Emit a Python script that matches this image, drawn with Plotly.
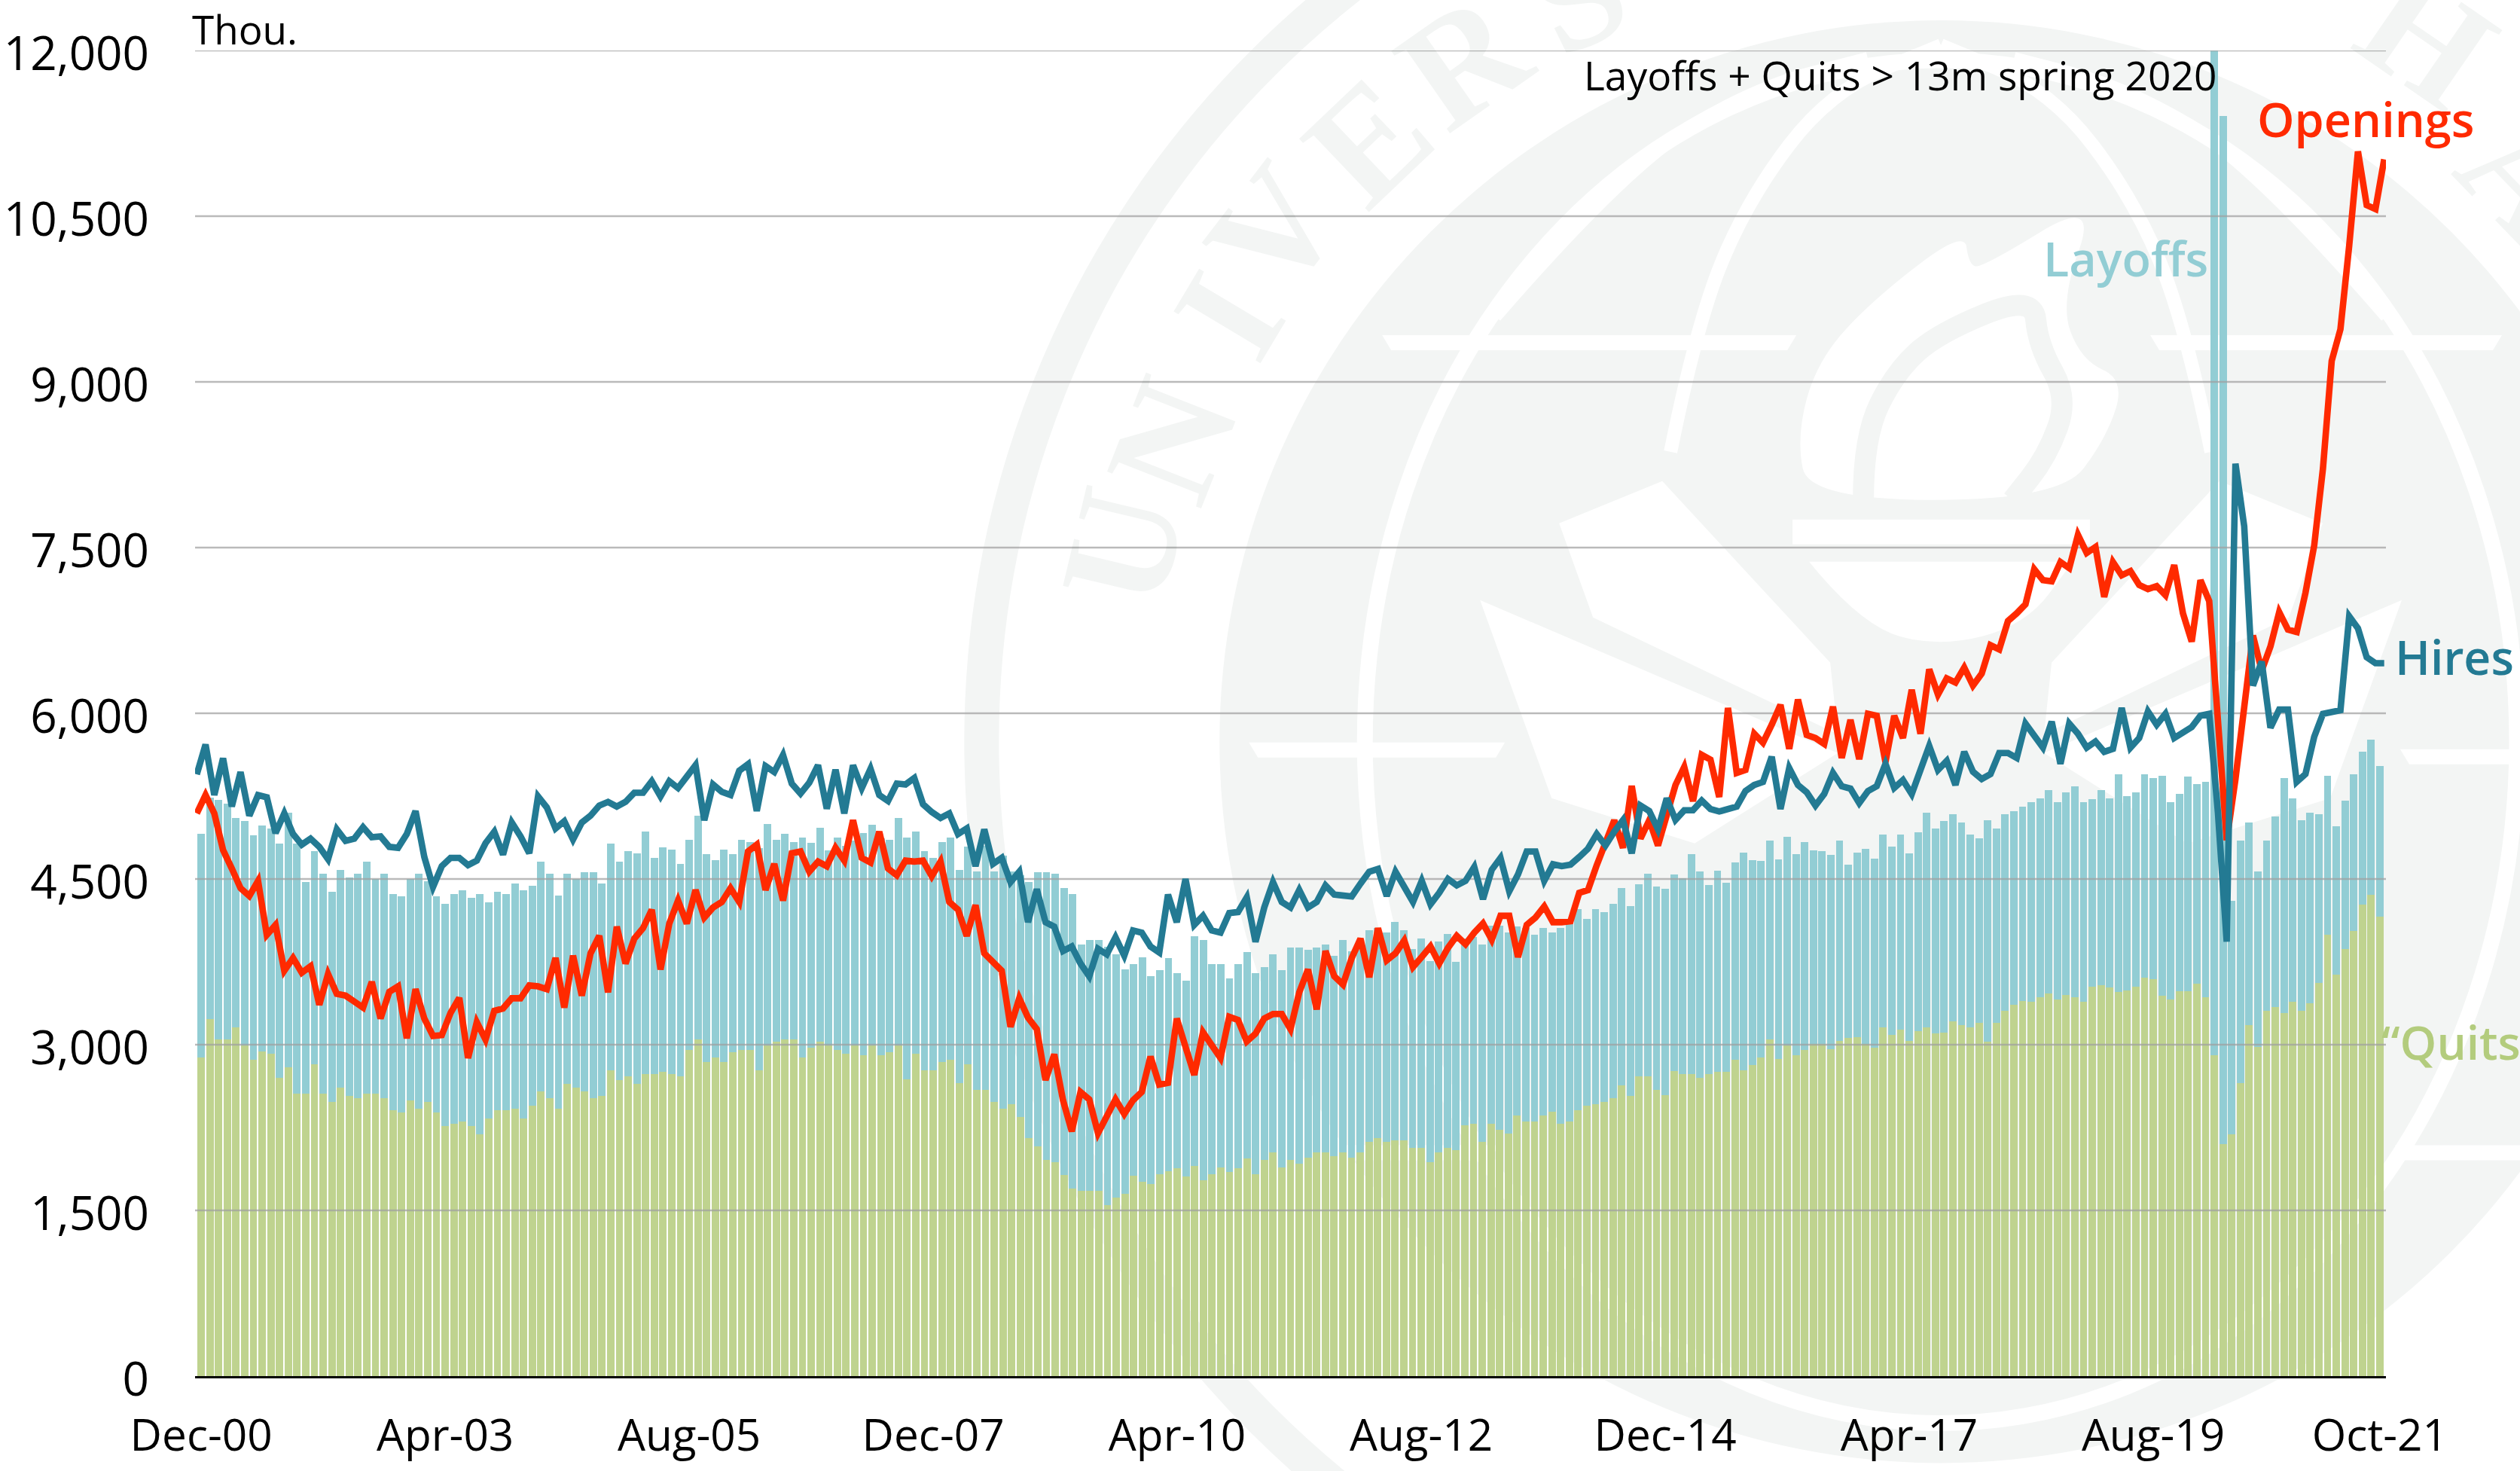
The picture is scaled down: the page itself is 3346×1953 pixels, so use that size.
import numpy as np
import plotly.graph_objects as go

tick_positions = [0, 28, 56, 84, 112, 140, 168, 196, 224, 250]
tick_labels = ["Dec-00", "Apr-03", "Aug-05", "Dec-07", "Apr-10", "Aug-12", "Dec-14", "Apr-17", "Aug-19", "Oct-21"]
y_ticks = [0, 1500, 3000, 4500, 6000, 7500, 9000, 10500, 12000]

quits = [2884,3233,3046,3046,3154,2996,2863,2938,2921,2697,2796,2555,2555,2825,2555,2480,2609,2539,2518,2555,2555,2518,2410,2389,2497,2422,2480,2389,2264,2281,2302,2264,2190,2335,2410,2410,2422,2335,2447,2580,2518,2422,2647,2609,2580,2518,2539,2771,2680,2717,2647,2734,2734,2755,2734,2717,2954,3046,2846,2884,2846,2933,2954,2954,2771,2996,3029,3046,3046,2884,2975,3029,2996,
2954,2921,2996,2904,2996,2904,2933,2996,2684,2921,2771,2771,2846,2863,2651,2825,2593,2593,2480,2422,2464,2343,2156,2082,1957,1936,1820,1699,1679,1679,1679,1550,1616,1650,1812,1758,1737,1828,1853,1882,1807,1903,1770,1828,1886,1845,1882,1969,1828,1957,2028,1886,1957,1920,1974,2028,2028,1994,2028,1974,2028,2119,2156,2119,2136,2136,2065,2065,1936,2028,2065,2044,2269,2285,2119,2285,2227,2194,2356,2302,2302,2356,2393,2285,2302,2410,2447,2464,2480,2518,2630,2539,2717,2717,2593,
2542,2760,2733,2733,2700,2733,2755,2755,2864,2771,2815,2885,3049,2869,2995,2907,2951,3005,3005,2962,3033,3060,3071,3005,2973,3158,3087,3136,3033,3125,3158,3104,3109,3213,3180,3158,3196,3027,3196,3305,3360,3398,3387,3431,3464,3409,3447,3431,3387,3524,3540,3518,3480,3491,3524,3605,3595,3442,3409,3485,3485,3551,3431,2907,2100,2187,2651,3180,2978,3305,3344,3289,3387,3305,3376,3562,3998,3633,3867,4031,4271,4358,4162]

quits_plus_layoffs = [4911,5239,5219,5181,5052,5023,4895,4986,4957,4820,5102,4820,4471,4749,4545,4383,4583,4516,4545,4658,4500,4545,4363,4342,4500,4545,4479,4342,4276,4363,4396,4329,4363,4288,4383,4363,4458,4396,4438,4658,4545,4350,4545,4500,4562,4562,4458,4820,4658,4749,4732,4932,4691,4787,4766,4637,4853,5073,4728,4670,4766,4728,4853,4836,4782,4998,4853,4911,4836,4874,4824,4965,4762,
4874,4803,4845,4915,4990,4866,4853,5052,4878,4932,4749,4691,4836,4874,4583,4795,4566,4803,4566,4708,4566,4533,4471,4562,4562,4545,4417,4363,3910,3947,3947,3889,3818,3685,3731,3794,3619,3673,3785,3648,3577,3980,3947,3731,3731,3598,3731,3839,3648,3702,3818,3673,3877,3877,3860,3877,3906,3802,3951,3843,3918,4034,4055,4014,4109,4034,3868,3960,3760,3931,4001,3752,3960,3972,3910,4076,4076,4014,4068,4055,3993,4055,4014,4055,4118,4230,4138,4230,4201,4276,4417,4255,4450,4545,4429,
4413,4544,4505,4724,4565,4445,4576,4467,4653,4740,4669,4664,4849,4675,4882,4724,4833,4762,4751,4718,4849,4631,4740,4773,4685,4904,4795,4904,4729,4925,5100,4958,5024,5089,5013,4904,4871,5035,4958,5089,5111,5155,5198,5231,5307,5198,5285,5340,5198,5220,5307,5231,5449,5253,5285,5449,5416,5433,5198,5269,5427,5362,5378,13300,11410,4304,4849,5013,4565,4849,5067,5416,5231,5035,5100,5089,5433,4980,5209,5449,5651,5760,5525]

hires = [5447,5717,5260,5593,5156,5468,5073,5260,5239,4915,5094,4907,4811,4865,4791,4679,4949,4845,4865,4969,4878,4886,4791,4782,4907,5115,4699,4429,4616,4691,4691,4625,4666,4824,4928,4720,5011,4886,4733,5248,5148,4957,5023,4857,5011,5073,5165,5198,5156,5198,5281,5281,5385,5248,5385,5323,5426,5530,5032,5356,5289,5260,5480,5539,5115,5522,5468,5622,5364,5273,5372,5530,5136,
5489,5094,5530,5323,5497,5260,5206,5364,5356,5414,5177,5106,5052,5094,4907,4957,4616,4949,4637,4691,4471,4566,4109,4408,4109,4068,3848,3889,3735,3619,3868,3818,3972,3806,4034,4014,3889,3835,4359,4109,4500,4084,4167,4034,4014,4192,4201,4334,3931,4242,4471,4292,4242,4400,4242,4292,4442,4359,4346,4342,4458,4566,4591,4346,4566,4442,4292,4483,4271,4375,4500,4442,4483,4608,4317,4583,4691,4388,4541,4749,4749,4483,4633,4616,4629,4699,4774,4907,4803,4928,5032,4732,5165,5115,4949,
5231,5035,5122,5122,5209,5133,5111,5133,5155,5296,5351,5378,5607,5133,5504,5351,5285,5165,5269,5460,5340,5318,5187,5296,5340,5542,5324,5395,5269,5487,5705,5487,5569,5351,5651,5471,5405,5449,5640,5640,5596,5907,5787,5689,5924,5542,5907,5815,5689,5744,5651,5678,6049,5689,5776,6016,5896,5995,5776,5831,5875,5978,5995,5100,3933,8259,7693,6251,6469,5869,6033,6033,5378,5449,5787,5995,6005,6027,6878,6769,6507,6453,6453]

openings = [5094,5260,5094,4762,4595,4417,4346,4483,3993,4084,3669,3785,3652,3710,3361,3640,3461,3444,3390,3336,3569,3237,3478,3528,3058,3503,3237,3079,3087,3287,3424,2879,3204,3046,3307,3328,3420,3420,3536,3528,3503,3785,3336,3806,3444,3827,3985,3474,4068,3735,3960,4055,4222,3681,4097,4305,4097,4400,4151,4242,4292,4417,4292,4749,4811,4400,4637,4305,4733,4749,4566,4658,4616,
4782,4666,5032,4691,4649,4928,4595,4533,4666,4658,4666,4525,4658,4292,4222,3985,4263,3827,3752,3669,3162,3420,3245,3141,2680,2913,2497,2215,2572,2505,2198,2339,2505,2373,2497,2572,2892,2638,2655,3237,2975,2726,3112,2996,2879,3253,3224,3029,3100,3237,3278,3278,3141,3474,3681,3320,3848,3619,3544,3785,3960,3611,4055,3764,3827,3943,3702,3794,3889,3735,3877,3985,3910,4014,4097,3951,4167,4167,3794,4084,4151,4251,4109,4109,4118,4375,4400,4625,4845,5032,4782,5343,4866,5032,4803,
5078,5351,5514,5204,5624,5580,5242,6049,5460,5487,5815,5733,5896,6076,5678,6125,5804,5776,5722,6060,5596,5940,5585,5995,5978,5558,5978,5776,6213,5815,6398,6169,6316,6278,6414,6251,6360,6616,6578,6835,6905,6987,7304,7205,7194,7369,7314,7615,7451,7505,7053,7369,7249,7287,7162,7124,7151,7069,7342,6905,6649,7205,7015,5896,4850,5405,6060,6704,6387,6605,6916,6758,6736,7090,7519,8216,9190,9477,10233,11086,10600,10564,11014]

W, H = 3346, 1953
PL, PR, PT, PB = 258.5, 3168.0, 67.0, 1827.5
GREY = "#f3f5f4"
WHITE = "#ffffff"

def px(x):
    return (x - PL) / (PR - PL)

def py(y):
    return (PB - y) / (PB - PT)

def curve(points, closed=False):
    pts = [(px(a), py(b)) for a, b in points]
    if closed:
        mids = [((pts[i][0] + pts[(i + 1) % len(pts)][0]) / 2, (pts[i][1] + pts[(i + 1) % len(pts)][1]) / 2) for i in range(len(pts))]
        d = f"M {mids[-1][0]:.5f} {mids[-1][1]:.5f}"
        for i, p in enumerate(pts):
            d += f" Q {p[0]:.5f} {p[1]:.5f} {mids[i][0]:.5f} {mids[i][1]:.5f}"
        return d + " Z"
    d = f"M {pts[0][0]:.5f} {pts[0][1]:.5f}"
    for i in range(1, len(pts) - 1):
        mx, my = (pts[i][0] + pts[i + 1][0]) / 2, (pts[i][1] + pts[i + 1][1]) / 2
        d += f" Q {pts[i][0]:.5f} {pts[i][1]:.5f} {mx:.5f} {my:.5f}"
    return d + f" L {pts[-1][0]:.5f} {pts[-1][1]:.5f}"

def poly(points):
    return "M " + " L ".join(f"{px(a):.5f} {py(b):.5f}" for a, b in points) + " Z"

CX, CY = 2577, 985
shapes = []

def ellipse(rx, ry, fill=None, line=None, lw=0):
    shapes.append(dict(type="circle", xref="paper", yref="paper", layer="below",
                       x0=px(CX - rx), x1=px(CX + rx), y0=py(CY + ry), y1=py(CY - ry),
                       fillcolor=fill or "rgba(0,0,0,0)", line=dict(color=line or "rgba(0,0,0,0)", width=lw)))

def path(d, fill=None, line=None, lw=0):
    shapes.append(dict(type="path", xref="paper", yref="paper", layer="below", path=d,
                       fillcolor=fill or "rgba(0,0,0,0)", line=dict(color=line or "rgba(0,0,0,0)", width=lw)))

def mirror(points):
    return [(2 * CX - a, b) for a, b in points]

ellipse(1274, 1274, None, GREY, 46)
ellipse(958, 958, GREY)
ellipse(765, 905, None, WHITE, 21)
arc_b = [(2218, 600), (2253, 427), (2321, 264), (2430, 121), (2577, 60)]
path(curve(arc_b), None, WHITE, 18)
path(curve(mirror(arc_b)), None, WHITE, 18)
arc_c = [(1985, 420), (2160, 218), (2333, 116), (2480, 78)]
path(curve(arc_c), None, WHITE, 18)
path(curve(mirror(arc_c)), None, WHITE, 18)
for x0, x1, y, h in [(1835, 2385, 455, 20), (2855, 3322, 455, 20), (1658, 1998, 996, 20), (3187, 3530, 1005, 20), (3180, 3520, 1531, 20), (1660, 1990, 1531, 20)]:
    path(poly([(x0, y - h / 2), (x1, y - h / 2), (x1 - 12, y + h / 2), (x0 + 12, y + h / 2)]), WHITE)
flame = [(2402, 664), (2385, 580), (2413, 478), (2488, 397), (2608, 305), (2614, 351), (2631, 356), (2786, 261), (2735, 402), (2763, 478), (2821, 504), (2798, 580), (2735, 664)]
path(curve(flame, closed=True), WHITE)
flame_inner = [(2474, 664), (2474, 580), (2517, 493), (2574, 442), (2700, 391), (2706, 458), (2746, 529), (2718, 606), (2672, 664)]
path(curve(flame_inner), None, GREY, 28)
shapes.append(dict(type="rect", xref="paper", yref="paper", layer="below", x0=px(2380), x1=px(2775), y0=py(723), y1=py(690), fillcolor=WHITE, line=dict(width=0)))
path(curve([(2402, 746), (2470, 830), (2574, 860), (2690, 830), (2752, 746)]) + " Z", WHITE)
ray1 = [(1965, 797), (2440, 1000), (2250, 1120), (2060, 1060)]
ray2 = [(2070, 695), (2207, 639), (2430, 880), (2440, 975), (2115, 820)]
for r in (ray1, ray2):
    path(poly(r), WHITE)
    path(poly(mirror(r)), WHITE)

fig = go.Figure()
x_bars = np.arange(len(quits))
layoffs = np.array(quits_plus_layoffs) - np.array(quits)
fig.add_bar(x=x_bars, y=quits, marker=dict(color="#bfd38f", line=dict(width=0)), name="Quits")
fig.add_bar(x=x_bars, y=layoffs, marker=dict(color="#92cdd4", line=dict(width=0)), name="Layoffs")

for t in y_ticks[1:]:
    fig.add_scatter(x=[-0.7, 250.7], y=[t, t], mode="lines", cliponaxis=False, hoverinfo="skip",
                    line=dict(color="rgba(160,160,160,0.72)", width=2.6), showlegend=False)

x_lines = np.linspace(-0.5, 250.5, len(hires))
fig.add_scatter(x=x_lines, y=openings, mode="lines", line=dict(color="#ff2a00", width=8.6), name="Openings")
fig.add_scatter(x=x_lines, y=hires, mode="lines", line=dict(color="#237a93", width=8.6), name="Hires")

FONT = "Open Sans"
def label(text, x, y, size, color, anchor="left", weight=400):
    return dict(text=text, xref="paper", yref="paper", x=px(x), y=py(y), xanchor=anchor, yanchor="middle",
                showarrow=False, font=dict(family=FONT, size=size, color=color, weight=weight))

annotations = [
    label("Thou.", 252, 38, 53, "#000000"),
    label("Layoffs + Quits > 13m spring 2020", 2946, 100, 53.3, "#000000", "right"),
    label("Openings", 2995, 158, 63, "#ff2a00", weight=600),
    label("Layoffs", 2934, 343, 63, "#92cdd4", "right", 600),
    label("Hires", 3178, 872, 62.5, "#237a93", weight=600),
    label("“Quits”", 3160, 1383, 62, "#b3cc7d", weight=600),
]
seal_letters = [("U", 13.4, 1117), ("N", 21.4, 1097), ("I", 30.9, 1103), ("V", 37.5, 1117), ("E", 46.4, 1103), ("R", 55, 1105), ("S", 64, 1105), ("H", 124.6, 1136), ("A", 136, 1080)]
for ch, a, r in seal_letters:
    th = np.radians(a)
    annotations.append(dict(text=ch, xref="paper", yref="paper", x=px(CX - r * np.cos(th)), y=py(CY - r * np.sin(th)),
                            xanchor="center", yanchor="middle", showarrow=False, textangle=a - 90,
                            font=dict(family="Liberation Serif", size=205, color="rgba(30,70,50,0.055)", weight=700)))

fig.update_layout(
    width=W, height=H, autosize=False, barmode="stack", bargap=0.15, showlegend=False,
    paper_bgcolor="#ffffff", plot_bgcolor="rgba(0,0,0,0)",
    margin=dict(l=PL, r=W - PR, t=PT, b=H - PB, pad=0, autoexpand=False),
    font=dict(family=FONT, color="#000000"),
    shapes=shapes, annotations=annotations,
    xaxis=dict(range=[-0.7, 250.7], tickmode="array", tickvals=tick_positions, ticktext=tick_labels, showgrid=False,
               automargin=False, zeroline=False, showline=True, linecolor="#000000", linewidth=3, ticks="",
               tickfont=dict(family=FONT, size=58.5, color="#000000"), ticklabelstandoff=26),
    yaxis=dict(range=[0, 12000], tickmode="array", tickvals=y_ticks, tickformat=",", showgrid=False, zeroline=False,
               automargin=False, showline=False, ticks="", tickfont=dict(family=FONT, size=62, color="#000000"),
               ticklabelstandoff=60, ticklabelshift=4),
)
post = """
document.body.style.margin='0';document.body.style.overflow='hidden';
document.querySelectorAll('path.js-line').forEach(function(p){p.style.strokeLinejoin='miter';p.style.strokeMiterlimit='3';p.style.strokeLinecap='butt';});
"""
fig.write_html("out.html", post_script=post, config={"displayModeBar": False})
